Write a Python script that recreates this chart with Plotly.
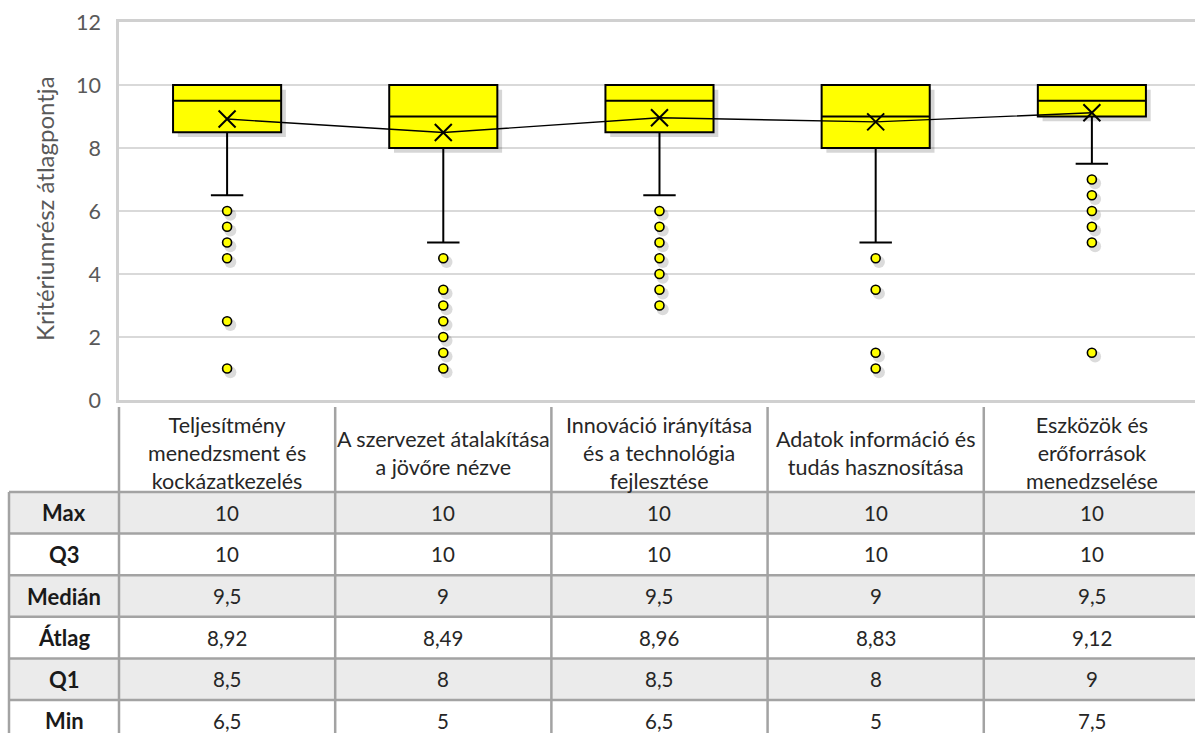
import plotly.graph_objects as go

# ---------------- data ----------------
categories = [
    "Teljesítmény<br>menedzsment és<br>kockázatkezelés",
    "A szervezet átalakítása<br>a jövőre nézve",
    "Innováció irányítása<br>és a technológia<br>fejlesztése",
    "Adatok információ és<br>tudás hasznosítása",
    "Eszközök és<br>erőforrások<br>menedzselése",
]
max_vals = [10, 10, 10, 10, 10]
q3_vals = [10, 10, 10, 10, 10]
median_vals = [9.5, 9, 9.5, 9, 9.5]
mean_vals = [8.92, 8.49, 8.96, 8.83, 9.12]
q1_vals = [8.5, 8, 8.5, 8, 9]
min_vals = [6.5, 5, 6.5, 5, 7.5]

outliers = [
    [6, 5.5, 5, 4.5, 2.5, 1],
    [4.5, 3.5, 3, 2.5, 2, 1.5, 1],
    [6, 5.5, 5, 4.5, 4, 3.5, 3],
    [4.5, 3.5, 1.5, 1],
    [7, 6.5, 6, 5.5, 5, 1.5],
]

row_labels = ["Max", "Q3", "Medián", "Átlag", "Q1", "Min"]
row_values = [max_vals, q3_vals, median_vals, mean_vals, q1_vals, min_vals]

y_ticks = [0, 2, 4, 6, 8, 10, 12]

FONT = "Lato, Carlito, Calibri, sans-serif"
YELLOW = "#FFFF00"
GRAY_TXT = "#595959"


def fmt(v):
    return f"{v:g}".replace(".", ",")


xpos = list(range(len(categories)))

fig = go.Figure()

# box shadows
fig.add_trace(go.Box(
    x=[x + 0.022 for x in xpos],
    q1=[v - 0.15 for v in q1_vals], median=[v - 0.15 for v in median_vals],
    q3=[v - 0.15 for v in q3_vals],
    lowerfence=[v - 0.15 for v in q1_vals], upperfence=[v - 0.15 for v in q3_vals],
    boxpoints=False, width=0.5, whiskerwidth=0,
    fillcolor="rgba(0,0,0,0.16)", line=dict(color="rgba(0,0,0,0)", width=0),
    showlegend=False, hoverinfo="skip",
))

# boxes
fig.add_trace(go.Box(
    x=xpos, q1=q1_vals, median=median_vals, q3=q3_vals,
    lowerfence=min_vals, upperfence=max_vals,
    boxpoints=False, width=0.5, whiskerwidth=0.3,
    fillcolor=YELLOW, line=dict(color="black", width=2),
    showlegend=False, hoverinfo="skip",
))

# outlier shadows + outliers
ox, oy = [], []
for i, vals in enumerate(outliers):
    for v in vals:
        ox.append(i)
        oy.append(v)
fig.add_trace(go.Scatter(
    x=[x + 0.015 for x in ox], y=[y - 0.12 for y in oy], mode="markers",
    marker=dict(size=12, color="rgba(0,0,0,0.14)", line=dict(width=0)),
    showlegend=False, hoverinfo="skip",
))
fig.add_trace(go.Scatter(
    x=ox, y=oy, mode="markers",
    marker=dict(size=9, color=YELLOW, line=dict(color="black", width=1.6)),
    showlegend=False, hoverinfo="skip",
))

# mean line with X markers
fig.add_trace(go.Scatter(
    x=xpos, y=mean_vals, mode="lines+markers",
    line=dict(color="black", width=1.4),
    marker=dict(symbol="x-thin", size=17, color="black",
                line=dict(color="black", width=2)),
    showlegend=False, hoverinfo="skip",
))

W, H = 1195, 733
# plot area in pixels
PL, PT, PB = 119, 22, 400
unit = (W - PL) / 4.977  # px per category (same for both x axes)
x_left = -0.5
x_right = x_left + (W - PL) / unit
x2_left = -0.5 - PL / unit

# ---------------- table (drawn on x2/y2) ----------------
ROW_PX = 41.6
TABLE_TOP = 405
HH = 87 / ROW_PX  # header height in row units
H_units = (H - TABLE_TOP) / ROW_PX
XL = x2_left + 9 / unit
XR = x_right + 0.2
LINE_C = "#a3a3a3"

shapes = []
for r in range(len(row_labels)):
    if r % 2 == 0:
        shapes.append(dict(type="rect", xref="x2", yref="y2",
                           x0=XL, x1=XR, y0=HH + r, y1=HH + r + 1,
                           fillcolor="#ebebeb", line=dict(width=0), layer="below"))
for r in range(len(row_labels) + 1):
    shapes.append(dict(type="line", xref="x2", yref="y2",
                       x0=XL, x1=XR, y0=HH + r, y1=HH + r,
                       line=dict(color=LINE_C, width=2.5)))
shapes.append(dict(type="line", xref="x2", yref="y2",
                   x0=XL, x1=XL, y0=HH, y1=HH + len(row_labels),
                   line=dict(color=LINE_C, width=2.5)))
for i in range(len(categories)):
    xe = i - 0.5
    shapes.append(dict(type="line", xref="x2", yref="y2",
                       x0=xe, x1=xe, y0=0.05, y1=HH + len(row_labels),
                       line=dict(color=LINE_C, width=2.5)))

annotations = []
for i, c in enumerate(categories):
    annotations.append(dict(xref="x2", yref="y2", x=i, y=HH / 2 + 0.12,
                            text=c, showarrow=False, xanchor="center", yanchor="middle",
                            font=dict(family=FONT, size=21.5, color="#262626"),
                            align="center"))
for r, (lab, vals) in enumerate(zip(row_labels, row_values)):
    annotations.append(dict(xref="x2", yref="y2", x=(XL - 0.5) / 2,
                            y=HH + r + 0.5, text=f"<b>{lab}</b>", showarrow=False,
                            xanchor="center", yanchor="middle",
                            font=dict(family=FONT, size=22, color="#1a1a1a")))
    for i, v in enumerate(vals):
        annotations.append(dict(xref="x2", yref="y2", x=i, y=HH + r + 0.5,
                                text=fmt(v), showarrow=False,
                                xanchor="center", yanchor="middle",
                                font=dict(family=FONT, size=20.5, color="#262626")))

# y-axis title
annotations.append(dict(xref="paper", yref="paper", x=44 / W, y=1 - 209 / H,
                        xanchor="center", yanchor="middle",
                        text="Kritériumrész átlagpontja", textangle=-90,
                        showarrow=False,
                        font=dict(family=FONT, size=24, color=GRAY_TXT)))

fig.update_layout(
    width=W, height=H,
    margin=dict(l=0, r=0, t=0, b=0, autoexpand=False),
    paper_bgcolor="white", plot_bgcolor="white",
    font=dict(family=FONT),
    boxmode="overlay",
    xaxis=dict(domain=[PL / W, 1], range=[x_left, x_right],
               showticklabels=False, showgrid=False, zeroline=False,
               showline=True, mirror=True, linecolor="#d0d0d0", linewidth=2.5,
               ticks="", automargin=False),
    yaxis=dict(domain=[1 - PB / H, 1 - PT / H], range=[0, 12],
               tickvals=y_ticks, ticktext=[str(t) for t in y_ticks],
               tickfont=dict(family=FONT, size=21.5, color=GRAY_TXT),
               showgrid=True, gridcolor="#d9d9d9", gridwidth=1.5,
               zeroline=False, showline=True, linecolor="#d0d0d0", linewidth=2.5,
               ticks="", ticklabelstandoff=11, automargin=False),
    xaxis2=dict(domain=[0, 1], range=[x2_left, x_right], anchor="y2",
                visible=False, fixedrange=True, automargin=False),
    yaxis2=dict(domain=[0, 1 - TABLE_TOP / H], range=[H_units, 0], anchor="x2",
                visible=False, fixedrange=True, automargin=False),
    shapes=shapes,
    annotations=annotations,
    showlegend=False,
)

fig.write_html("out.html")
